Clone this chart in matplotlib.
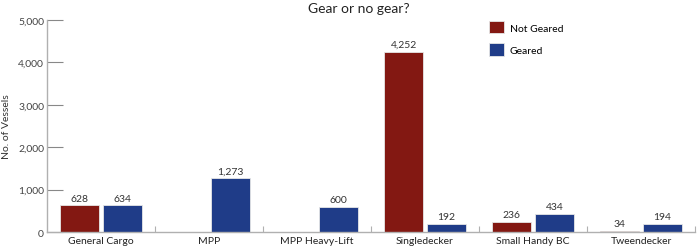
import numpy as np
import matplotlib.pyplot as plt
from matplotlib.ticker import FuncFormatter, FixedLocator

categories = ['General Cargo', 'MPP', 'MPP Heavy-Lift', 'Singledecker', 'Small Handy BC', 'Tweendecker']
not_geared = [628, 0, 0, 4252, 236, 34]
geared = [634, 1273, 600, 192, 434, 194]

red = '#831812'
blue = '#1f3c88'
grey = '#b0b0b0'

plt.rcParams['font.family'] = ['Lato', 'DejaVu Sans']

fig = plt.figure(figsize=(7, 2.53), dpi=100)
ax = fig.add_axes([0.067, 0.079, 0.926, 0.838])

x = np.arange(len(categories))
w = 0.36
b1 = ax.bar(x - w/2 - 0.018, not_geared, w, color=red, edgecolor='#e6e6e6', lw=0.6, label='Not Geared')
b2 = ax.bar(x + w/2 + 0.018, geared, w, color=blue, edgecolor='#e6e6e6', lw=0.6, label='Geared')

for bars, vals in ((b1, not_geared), (b2, geared)):
    for r, v in zip(bars, vals):
        if v > 0:
            ax.text(r.get_x() + r.get_width()/2, v + 60, f'{v:,}', ha='center', va='bottom',
                    fontsize=7.5, color='#333333')

ax.set_xlim(-0.5, len(categories) - 0.5)
ax.set_ylim(0, 5000)
ax.set_yticks([0, 1000, 2000, 3000, 4000, 5000])
ax.yaxis.set_major_formatter(FuncFormatter(lambda v, p: f'{int(v):,}'))
ax.tick_params(axis='y', direction='in', length=11.5, width=0.8, color='#888888',
               labelsize=7.5, labelcolor='#444444', pad=2)
ax.set_xticks(x)
ax.set_xticklabels(categories)
ax.tick_params(axis='x', length=0, labelsize=7.5, labelcolor='#222222', pad=3)
ax.xaxis.set_minor_locator(FixedLocator(np.arange(0.5, len(categories), 1)))
ax.tick_params(axis='x', which='minor', direction='in', length=4, width=0.8, color=grey)

for s in ['top', 'right']:
    ax.spines[s].set_visible(False)
for s in ['left', 'bottom']:
    ax.spines[s].set_color(grey)
    ax.spines[s].set_linewidth(1.0)

ax.set_ylabel('No. of Vessels', fontsize=7.5, color='#333333', labelpad=5)
fig.text(0.513, 0.965, 'Gear or no gear?', ha='center', va='center', fontsize=10, color='#222222')

ax.legend(loc='upper left', bbox_to_anchor=(0.668, 1.04), frameon=False, fontsize=7.5,
          handlelength=1.45, handleheight=1.45, labelspacing=0.95, handletextpad=0.5)

fig.savefig('out.png', dpi=100)
